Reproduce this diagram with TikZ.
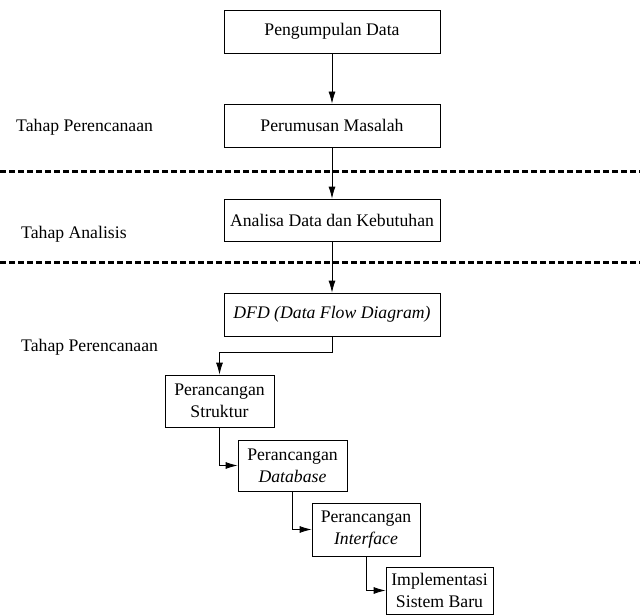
\documentclass[tikz,border=0pt]{standalone}
\usepackage{fontspec}
\setmainfont{Liberation Serif}
\usetikzlibrary{arrows.meta}

\begin{document}
\begin{tikzpicture}[x=1pt,y=-1pt,
		kotak/.style={draw,line width=0.8pt,align=center,inner sep=0pt,font=\fontsize{17.7}{22}\selectfont},
		panah/.style={-{Latex[length=12pt,width=7pt]},line width=0.8pt},
		batas/.style={line width=3pt,dash pattern=on 6pt off 3pt},
		tahap/.style={anchor=west,inner sep=0pt,font=\fontsize{17.7}{22}\selectfont}]
				\useasboundingbox (0,0) rectangle (640,615);
				
				\node[kotak,minimum width=216pt,minimum height=43pt] (k1) at (332,31.5) {Pengumpulan Data};
				\node[kotak,minimum width=216pt,minimum height=43pt] (k2) at (332,125.5) {Perumusan Masalah};
				\node[kotak,minimum width=216pt,minimum height=42pt] (k3) at (332,220) {Analisa Data dan Kebutuhan};
				\node[kotak,minimum width=216pt,minimum height=43pt] (k4) at (332,314.5) {\textit{DFD (Data Flow Diagram)}};
				
				\node[kotak,minimum width=109pt,minimum height=52pt] (k5) at (219.5,401) {Perancangan\\Struktur};
				\node[kotak,minimum width=109pt,minimum height=51pt] (k6) at (292.5,465.5) {Perancangan\\\textit{Database}};
				\node[kotak,minimum width=108pt,minimum height=53pt] (k7) at (366,529.5) {Perancangan\\\textit{Interface}};
				\node[kotak,minimum width=107pt,minimum height=47pt] (k8) at (439.5,590.5) {Implementasi\\Sistem Baru};
				
				\node[tahap] (t1) at (16,127) {Tahap Perencanaan};
				\node[tahap] (t2) at (21,234) {Tahap Analisis};
				\node[tahap] (t3) at (21,347) {Tahap Perencanaan};
				
				\draw[batas] (0,172) -- (640,172);
				\draw[batas] (0,262) -- (640,262);
				
				\draw[panah] (k1.south) -- (k2.north);
				\draw[panah] (k2.south) -- (k3.north);
				\draw[panah] (k3.south) -- (k4.north);
				\draw[panah] (k4.south) -- ++(0,16) -| (k5.north);
				\draw[panah] (k5.south) |- (k6.west);
				\draw[panah] (k6.south) |- (k7.west);
				\draw[panah] (k7.south) |- (k8.west);
\end{tikzpicture}
\end{document}
